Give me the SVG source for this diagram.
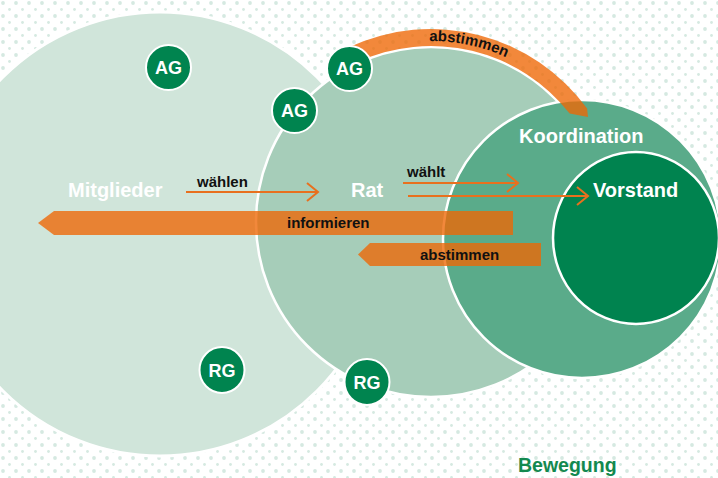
<svg xmlns="http://www.w3.org/2000/svg" width="718" height="478" viewBox="0 0 718 478">
<defs>
<pattern id="dots" width="13" height="13" patternUnits="userSpaceOnUse">
<circle cx="3" cy="3" r="1.9" fill="#d5e9e1"/>
<circle cx="9.5" cy="9.5" r="1.4" fill="#d5e9e1"/>
</pattern>
<marker id="chev" markerUnits="userSpaceOnUse" markerWidth="16" markerHeight="24" viewBox="0 0 16 24" refX="13" refY="12" orient="auto">
<path d="M2,3 L13,12 L2,21" fill="none" stroke="#e8701e" stroke-width="2"/>
</marker>
<style>
.big{stroke:#fff;stroke-width:2.5}
.lbl{font-family:"Liberation Sans",Arial,sans-serif;font-weight:bold;font-size:20px;fill:#fff}
.small{font-family:"Liberation Sans",Arial,sans-serif;font-weight:bold;font-size:15px;fill:#111}
.bub circle{fill:#00844f;stroke:#fff;stroke-width:2}
.bub text{font-family:"Liberation Sans",Arial,sans-serif;font-weight:bold;font-size:18px;fill:#fff;text-anchor:middle}
.band{fill:#ee6704;fill-opacity:0.78}
.thin{stroke:#e8701e;stroke-width:2;fill:none;marker-end:url(#chev)}
</style>
</defs>
<rect width="718" height="478" fill="#fff"/>
<rect width="718" height="478" fill="url(#dots)"/>

<g id="node-mitglieder">
<circle cx="160" cy="234" r="222" fill="#d0e5da" stroke="#fff" stroke-width="3"/>
<text class="lbl" x="68" y="197">Mitglieder</text>
</g>
<g id="node-rat">
<circle class="big" cx="431" cy="222" r="175" fill="#a6cdb9"/>
<text class="lbl" x="351" y="197">Rat</text>
</g>
<g id="node-koordination">
<circle class="big" cx="582" cy="239" r="139" fill="#5aab8a"/>
<text class="lbl" x="519" y="143">Koordination</text>
</g>
<g id="node-vorstand">
<ellipse class="big" cx="636" cy="238" rx="83" ry="86" fill="#00834f"/>
<text class="lbl" x="593" y="197">Vorstand</text>
</g>

<g id="connectors">
<path class="band" d="M38,223 L54,211 L513,211 L513,235 L54,235 Z"/>
<text class="small" x="287" y="228">informieren</text>
<path class="band" d="M358,254.5 L370,243 L541,243 L541,266 L370,266 Z"/>
<text class="small" x="420" y="260">abstimmen</text>
<path class="band" d="M349.4,47.1 A193,193 0 0 1 587.1,108.6 L588,117 L569.7,113.6 A176,176 0 0 0 356.6,62.5 Z"/>
<path id="arcText" d="M399.6,44 A179,179 0 0 1 547.3,83.4" fill="none"/>
<text class="small"><textPath href="#arcText" startOffset="44%" text-anchor="middle">abstimmen</textPath></text>
<line class="thin" x1="186" y1="192" x2="318" y2="192"/>
<text class="small" x="197" y="187">wählen</text>
<line class="thin" x1="403" y1="183" x2="518" y2="183"/>
<text class="small" x="407" y="177">wählt</text>
<line class="thin" x1="408" y1="196" x2="588" y2="196"/>
</g>

<g id="node-ag1" class="bub"><circle cx="168.5" cy="67.5" r="22.5"/><text x="168.5" y="74">AG</text></g>
<g id="node-ag2" class="bub"><circle cx="349.5" cy="68.5" r="22.5"/><text x="349.5" y="75">AG</text></g>
<g id="node-ag3" class="bub"><circle cx="294.5" cy="110.5" r="22.5"/><text x="294.5" y="117">AG</text></g>
<g id="node-rg1" class="bub"><ellipse cx="222" cy="370" rx="22.5" ry="23" fill="#00844f" stroke="#fff" stroke-width="2"/><text x="222" y="376.5">RG</text></g>
<g id="node-rg2" class="bub"><ellipse cx="367" cy="382" rx="22.5" ry="23" fill="#00844f" stroke="#fff" stroke-width="2"/><text x="367" y="388.5">RG</text></g>

<text x="518" y="472" style="font-family:'Liberation Sans',Arial,sans-serif;font-weight:bold;font-size:19.5px;fill:#13894f">Bewegung</text>
</svg>
